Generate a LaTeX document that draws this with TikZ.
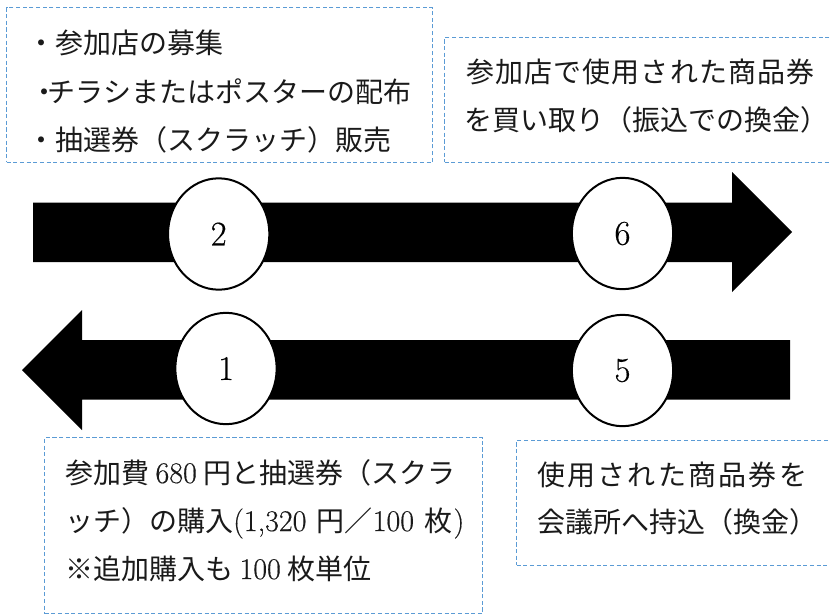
\documentclass[tikz,border=0pt]{standalone}
\usetikzlibrary{shapes.geometric}
\usepackage{fontspec}
\newfontfamily\cjk{Noto Sans CJK JP}
\newfontfamily\cjkA[LetterSpace=4]{Noto Sans CJK JP}
\newfontfamily\cjkB[LetterSpace=8]{Noto Sans CJK JP}
\newfontfamily\digitfont[FakeBold=0.35]{Latin Modern Roman}
\definecolor{dashblue}{HTML}{5B9BD5}
\definecolor{inkgray}{HTML}{1A1A1A}
\tikzset{
  notebox/.style={draw=dashblue,line width=0.8pt,dash pattern=on 3.2pt off 1.8pt,fill=white,rectangle,inner sep=0pt,anchor=north west},
  linetext/.style={anchor=base west,inner sep=0pt,text=inkgray,font=\fontsize{21}{24}\selectfont\cjk},
  linetextA/.style={anchor=base west,inner sep=0pt,text=inkgray,font=\fontsize{21}{24}\selectfont\cjkA},
  linetextB/.style={anchor=base west,inner sep=0pt,text=inkgray,font=\fontsize{21}{24}\selectfont\cjkB},
  numcircle/.style={ellipse,draw=black,line width=1.5pt,fill=white,minimum width=76pt,minimum height=83.5pt,inner sep=0pt,font=\fontsize{26}{30}\selectfont\digitfont},
  flowarrow/.style={fill=black}
}
\newcommand{\dg}[1]{{\fontsize{22.5}{24}\selectfont\digitfont #1}}
\begin{document}
\begin{tikzpicture}[x=0.75pt,y=-0.75pt]
\useasboundingbox (0,0) rectangle (830,614);
% arrows
\fill[flowarrow] (33,202.5) -- (732,202.5) -- (732,172) -- (792,232) -- (732,292) -- (732,262) -- (33,262) -- cycle;
\fill[flowarrow] (790,340) -- (82,340) -- (82,310) -- (22,370) -- (82,430) -- (82,399.5) -- (790,399.5) -- cycle;
% circles
\node[numcircle] (c2) at (218.7,234) {\raisebox{-0.5pt}{2}};
\node[numcircle] (c6) at (622.5,233.5) {6};
\node[numcircle] (c1) at (226,368.5) {\raisebox{-1pt}{1}};
\node[numcircle] (c5) at (622.5,370.5) {\raisebox{-1pt}{5}};
% boxes
\node[notebox,minimum width=319.5pt,minimum height=116.2pt] (b1) at (6,7) {};
\node[notebox,minimum width=300pt,minimum height=93.7pt] (b2) at (444,37) {};
\node[notebox,minimum width=328.5pt,minimum height=132pt] (b3) at (44,437) {};
\node[notebox,minimum width=250pt,minimum height=93.7pt] (b4) at (516,440) {};
% box 1 text
\node[linetext] (t11) at (27,53) {・参加店の募集};
\node[linetext] (t12) at (30,102) {・\hspace{-8pt}チラシまたはポスターの配布};
\node[linetext] (t13) at (27,150) {・抽選券（スクラッチ）販売};
% box 2 text
\node[linetextA] (t21) at (466,82) {参加店で使用された商品券};
\node[linetext] (t22) at (464,130) {を買い取り（振込での換金）};
% box 3 text
\node[linetext] (t31) at (65,483) {参加費 \dg{680} 円と抽選券（スクラ};
\node[linetext] (t32) at (65,531) {ッチ）の購入\dg{(1,320}\hspace{3pt} 円／\dg{100}\hspace{3pt} 枚\hspace{1pt}\dg{)}};
\node[linetext] (t33) at (65,579) {※追加購入も \dg{100} 枚単位};
% box 4 text
\node[linetextB] (t41) at (537,485) {使用された商品券を};
\node[linetext] (t42) at (537,532) {会議所へ持込（換金）};
\end{tikzpicture}
\end{document}
